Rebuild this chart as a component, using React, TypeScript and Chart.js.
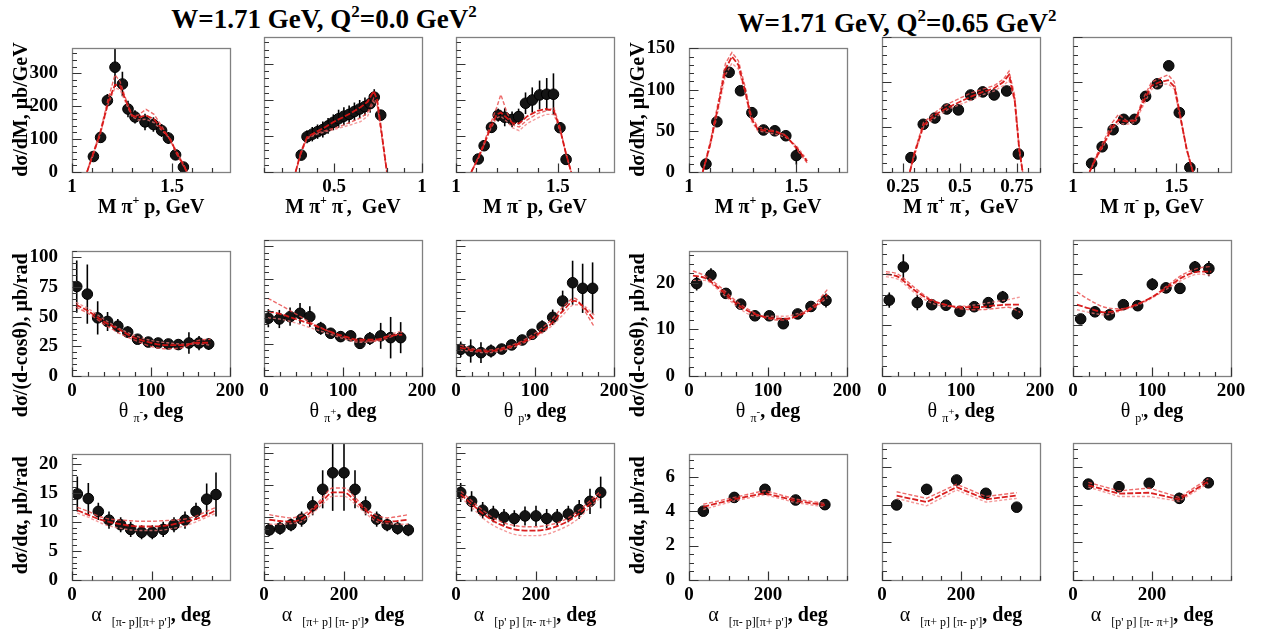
import React, { useEffect, useRef } from "react";
import { Chart, registerables } from "chart.js";

Chart.register(...registerables);

const SERIF = "'Liberation Serif', 'Times New Roman', serif";

// ================= DATA : W=1.71 GeV, Q2=0.0 GeV2 =================
// Row 1 : invariant masses
const mPipPQ0X = [1.107, 1.143, 1.177, 1.215, 1.252, 1.28, 1.315, 1.365, 1.407, 1.448, 1.482, 1.518, 1.557];
const mPipPQ0Y = [47, 105, 217, 318, 267, 191, 167, 152, 144, 126, 103, 52, 15];
const mPipPQ0Err = [8, 15, 20, 60, 37, 25, 20, 25, 22, 20, 18, 12, 10];
const mPipPQ0ModelX = [1.075, 1.1, 1.14, 1.18, 1.215, 1.24, 1.27, 1.3, 1.33, 1.37, 1.41, 1.45, 1.49, 1.52, 1.55, 1.575];
const mPipPQ0ModelA = [0, 45, 115, 210, 265, 262, 215, 172, 165, 172, 160, 130, 100, 62, 30, 0];
const mPipPQ0ModelB = [0, 48, 120, 220, 295, 275, 220, 170, 172, 190, 175, 138, 98, 58, 26, 0];
const mPipPQ0ModelC = [0, 42, 110, 205, 255, 250, 208, 168, 158, 160, 150, 125, 102, 66, 33, 0];

const mPiPiQ0X = [0.312, 0.345, 0.375, 0.405, 0.435, 0.465, 0.495, 0.525, 0.555, 0.585, 0.615, 0.645, 0.675, 0.705, 0.728, 0.765];
const mPiPiQ0Y = [47, 98, 105, 112, 118, 128, 138, 148, 155, 160, 168, 175, 182, 190, 208, 158];
const mPiPiQ0Err = [12, 18, 20, 20, 22, 22, 22, 25, 25, 25, 25, 25, 25, 25, 22, 12];
const mPiPiQ0ModelX = [0.28, 0.31, 0.345, 0.4, 0.45, 0.5, 0.55, 0.6, 0.65, 0.69, 0.725, 0.745, 0.77, 0.8];
const mPiPiQ0ModelA = [0, 55, 97, 112, 125, 140, 152, 165, 180, 195, 225, 200, 110, 0];
const mPiPiQ0ModelB = [0, 50, 95, 108, 115, 122, 130, 140, 150, 165, 205, 190, 100, 0];
const mPiPiQ0ModelC = [0, 52, 92, 105, 112, 118, 125, 132, 140, 155, 195, 185, 105, 0];

const mPimPQ0X = [1.109, 1.138, 1.174, 1.207, 1.239, 1.275, 1.307, 1.341, 1.374, 1.41, 1.445, 1.478, 1.51, 1.54];
const mPimPQ0Y = [36, 73, 124, 158, 152, 146, 154, 191, 200, 214, 216, 216, 123, 35];
const mPimPQ0Err = [8, 10, 15, 18, 25, 22, 22, 30, 35, 40, 45, 58, 15, 8];
const mPimPQ0ModelX = [1.075, 1.11, 1.14, 1.17, 1.2, 1.22, 1.25, 1.28, 1.31, 1.35, 1.4, 1.44, 1.48, 1.51, 1.54, 1.565];
const mPimPQ0ModelA = [0, 40, 80, 125, 160, 165, 150, 135, 135, 155, 170, 175, 170, 120, 50, 0];
const mPimPQ0ModelB = [0, 42, 85, 135, 180, 215, 165, 130, 125, 145, 162, 170, 178, 125, 48, 0];
const mPimPQ0ModelC = [0, 38, 78, 120, 150, 155, 140, 122, 115, 135, 150, 160, 160, 115, 52, 0];

// ================= DATA : W=1.71 GeV, Q2=0.65 GeV2 =================
const mPipPQ65X = [1.079, 1.13, 1.187, 1.24, 1.293, 1.347, 1.4, 1.451, 1.5];
const mPipPQ65Y = [9.7, 61, 121, 98.6, 72, 51, 50, 44, 20];
const mPipPQ65Err = [4, 4, 6, 4, 4, 3, 3, 4, 11];
const mPipPQ65ModelX = [1.064, 1.1, 1.14, 1.17, 1.2, 1.23, 1.26, 1.29, 1.32, 1.36, 1.4, 1.45, 1.5, 1.55];
const mPipPQ65ModelA = [0, 35, 85, 125, 140, 130, 100, 65, 52, 50, 49, 44, 30, 13];
const mPipPQ65ModelB = [0, 38, 90, 132, 145, 135, 105, 68, 55, 52, 50, 45, 28, 11];
const mPipPQ65ModelC = [0, 32, 80, 118, 132, 125, 98, 62, 50, 48, 46, 42, 32, 15];

const mPiPiQ65X = [0.285, 0.339, 0.39, 0.442, 0.493, 0.547, 0.6, 0.65, 0.705, 0.756];
const mPiPiQ65Y = [16, 53, 60, 70, 69, 85.6, 89, 85.6, 90, 20];
const mPiPiQ65Err = [6, 4, 3, 3, 3, 3, 3, 3, 3, 3];
const mPiPiQ65ModelX = [0.28, 0.3, 0.34, 0.4, 0.45, 0.5, 0.55, 0.6, 0.65, 0.69, 0.715, 0.74, 0.76, 0.775];
const mPiPiQ65ModelA = [0, 20, 52, 65, 72, 78, 84, 89, 93, 100, 108, 80, 25, 0];
const mPiPiQ65ModelB = [0, 22, 55, 68, 76, 82, 88, 92, 96, 103, 112, 85, 28, 0];
const mPiPiQ65ModelC = [0, 18, 50, 62, 70, 75, 80, 86, 90, 96, 102, 78, 22, 0];

const mPimPQ65X = [1.09, 1.141, 1.194, 1.245, 1.298, 1.351, 1.408, 1.463, 1.514, 1.565];
const mPimPQ65Y = [9.6, 28, 47, 58.5, 58.5, 84, 98, 118, 66, 5];
const mPimPQ65Err = [3, 3, 3, 3, 3, 3, 3, 5, 3, 2];
const mPimPQ65ModelX = [1.08, 1.11, 1.15, 1.19, 1.22, 1.26, 1.3, 1.34, 1.38, 1.42, 1.46, 1.49, 1.52, 1.55, 1.58];
const mPimPQ65ModelA = [0, 15, 32, 50, 58, 56, 57, 78, 96, 100, 102, 95, 60, 25, 0];
const mPimPQ65ModelB = [0, 17, 35, 55, 64, 57, 58, 82, 100, 104, 108, 100, 62, 24, 0];
const mPimPQ65ModelC = [0, 14, 30, 48, 54, 53, 55, 74, 92, 97, 98, 92, 58, 26, 0];

// Row 2 : polar angles
const thetaModelX = [5, 20, 40, 60, 80, 100, 120, 140, 160, 175];
const thetaPrModelX = [5, 20, 40, 60, 80, 100, 120, 135, 150, 162, 175];

const thPimQ0X = [6, 19.4, 32.5, 45, 58, 70.5, 83, 96.6, 109, 122, 134.6, 148, 160.8, 173];
const thPimQ0Y = [75.4, 69, 49, 46, 42, 37, 31, 28.6, 27.8, 27, 26.5, 27.8, 27.8, 27];
const thPimQ0Err = [22, 25, 14, 8, 6, 5, 4, 4, 4, 4, 4, 9, 6, 5];
const thPimQ0ModelA = [60, 55, 46, 39, 32, 28, 26, 26, 28, 28];
const thPimQ0ModelB = [58, 53, 44, 36, 30, 25, 23, 24, 30, 31];
const thPimQ0ModelC = [62, 57, 48, 40, 34, 30, 28, 27, 27, 26];

const thPipQ0X = [5.5, 19.4, 33, 45.6, 58, 71.8, 84.4, 97, 109.7, 121.5, 134, 147.7, 160.3, 173];
const thPipQ0Y = [44.6, 44, 45.8, 48.4, 45.8, 36.8, 33, 30.4, 31, 25.2, 29, 31, 29.6, 29.6];
const thPipQ0Err = [7, 7, 7, 8, 8, 5, 4, 4, 4, 4, 5, 10, 16, 12];
const thPipQ0ModelA = [50, 48, 44, 40, 35, 31, 28, 28, 31, 32];
const thPipQ0ModelB = [60, 55, 48, 41, 35, 30, 27, 27, 30, 34];
const thPipQ0ModelC = [45, 44, 41, 37, 33, 29, 26, 27, 32, 35];

const thPrQ0X = [6, 18.6, 31.6, 44.3, 57.8, 70.4, 83.8, 96.4, 109, 122.4, 135, 147.6, 160.3, 172.9];
const thPrQ0Y = [20.6, 19.3, 18, 19.3, 20.8, 24, 27.8, 32.2, 38, 45.3, 57.9, 72, 67.7, 67.7];
const thPrQ0Err = [6, 9, 8, 5, 4, 3, 3, 3, 5, 6, 8, 17, 19, 20];
const thPrQ0ModelA = [22, 20, 19, 21, 25, 31, 40, 50, 58, 53, 43];
const thPrQ0ModelB = [24, 21, 20, 22, 26, 33, 43, 53, 60, 51, 38];
const thPrQ0ModelC = [20, 19, 18, 20, 24, 30, 38, 47, 55, 54, 47];

const thPimQ65X = [9.7, 27.8, 46.8, 65.4, 83.5, 101.7, 119.4, 137.6, 154.4, 173.4];
const thPimQ65Y = [19.8, 21.6, 17.7, 15.4, 12.9, 12.9, 11.2, 13.3, 14.9, 16.2];
const thPimQ65Err = [1.5, 1.5, 0.8, 0.8, 0.8, 0.8, 0.8, 0.8, 0.8, 1.5];
const thPimQ65ModelA = [21.5, 21, 18.5, 15.5, 13.5, 12.5, 12.3, 13, 15, 17.5];
const thPimQ65ModelB = [22.5, 21.5, 19, 16, 13.8, 12.3, 12, 13.2, 15.5, 18.5];
const thPimQ65ModelC = [20.5, 20.5, 18, 15, 13, 12.8, 12.8, 13.5, 14.8, 16.8];

const thPipQ65X = [9.2, 27, 44.7, 63, 81, 98.7, 116.8, 134.6, 152.8, 171.3];
const thPipQ65Y = [14.9, 21.4, 14.4, 14, 13.9, 12.7, 13.6, 14.4, 15.5, 12.3];
const thPipQ65Err = [1.5, 2.5, 1.5, 0.8, 0.8, 0.8, 0.8, 0.8, 1.2, 1.2];
const thPipQ65ModelA = [20, 19.5, 17, 15, 14, 13.5, 13.5, 13.8, 14, 14];
const thPipQ65ModelB = [20.5, 20, 17.5, 15.2, 14, 13.2, 13, 13.2, 13.5, 12.5];
const thPipQ65ModelC = [19.5, 19, 16.5, 14.5, 13.7, 13.7, 14, 14.5, 15, 15.5];

const thPrQ65X = [9.7, 27.8, 46, 63.7, 81.9, 100.4, 117.7, 135.4, 154.4, 172];
const thPrQ65Y = [11.2, 12.6, 12, 14, 13.8, 18, 17.3, 17.2, 21.4, 21.1];
const thPrQ65Err = [0.8, 0.8, 0.8, 0.8, 0.8, 1.2, 0.8, 0.8, 1.2, 1.5];
const thPrQ65ModelA = [14, 13.3, 12.5, 13, 14, 15.5, 17.5, 19.5, 20.5, 20.5];
const thPrQ65ModelB = [16.5, 15, 13.5, 13.2, 14, 15.5, 17.8, 20, 21.2, 21.5];
const thPrQ65ModelC = [13, 12.5, 12, 12.8, 13.8, 15.3, 17.2, 19, 20, 19.8];

// Row 3 : alpha angles
const al1Q0X = [13.3, 40.8, 65.8, 92.5, 121.7, 146.7, 174, 200.8, 228, 255, 282.5, 310, 336.7, 360];
const al1Q0Y = [14.8, 14, 11.8, 10.3, 9.5, 8.7, 8.2, 8.2, 8.7, 9.5, 10.3, 11.8, 13.9, 14.7];
const al1Q0Err = [3, 2.7, 1.5, 1.5, 1.3, 1.3, 1.2, 1.2, 1.3, 1.3, 1.5, 1.5, 2.7, 3.8];
const al1Q0ModelA = [12, 11.2, 10.5, 10, 9.6, 9.3, 9.2, 9.2, 9.3, 9.6, 10, 10.5, 11.2, 12];
const al1Q0ModelB = [12.5, 11.8, 11, 10.5, 10.3, 10.2, 10.1, 10.1, 10.2, 10.3, 10.5, 11, 11.8, 12.5];
const al1Q0ModelC = [11.5, 10.8, 10, 9.3, 8.9, 8.6, 8.5, 8.5, 8.6, 8.9, 9.3, 10, 10.8, 11.5];

const al2Q0X = [13.3, 40, 67.5, 94, 121.7, 146.7, 171.7, 200, 227.5, 254, 281.7, 308, 334, 360.8];
const al2Q0Y = [7.9, 8.15, 8.7, 9.6, 11.7, 14.3, 16.9, 16.9, 14.3, 11.7, 9.6, 8.7, 8.15, 7.9];
const al2Q0Err = [1, 1, 1, 1.2, 1.5, 3, 6, 6, 3, 1.5, 1.2, 1, 1, 1];
const al2Q0ModelA = [9.5, 9.3, 9.2, 9.6, 11, 12.5, 13.8, 13.8, 12.5, 11, 9.6, 9.2, 9.3, 9.5];
const al2Q0ModelB = [10.3, 10, 9.8, 10.2, 11.3, 13, 14.5, 14.5, 13, 11.3, 10.2, 9.8, 10, 10.3];
const al2Q0ModelC = [8.8, 8.8, 8.9, 9.2, 10.5, 12, 13.2, 13.2, 12, 10.5, 9.2, 8.9, 8.8, 8.8];

const al3Q0X = [11.7, 39, 66.7, 93.3, 120, 145.8, 172.5, 200, 226.7, 253, 280.8, 308, 335, 361.7];
const al3Q0Y = [13.8, 12.4, 11, 10.4, 9.9, 9.7, 10.1, 10.1, 9.7, 9.9, 10.4, 11.1, 12.4, 13.8];
const al3Q0Err = [1.5, 1.6, 1.3, 1.3, 1.3, 1.3, 1.5, 1.6, 1.5, 1.3, 1.3, 1.5, 2, 2.5];
const al3Q0ModelA = [13.5, 12, 10.5, 9.3, 8.5, 8, 7.8, 7.8, 8, 8.5, 9.3, 10.5, 12, 13.5];
const al3Q0ModelB = [14, 12.5, 11, 9.8, 9, 8.6, 8.4, 8.4, 8.6, 9, 9.8, 11, 12.5, 14];
const al3Q0ModelC = [13, 11.5, 9.8, 8.6, 7.8, 7.2, 7, 7, 7.2, 7.8, 8.6, 9.8, 11.5, 13];

const al1Q65X = [36.2, 114.7, 192.4, 270, 344];
const al1Q65Y = [4.0, 4.8, 5.27, 4.65, 4.38];
const al1Q65Err = [0.2, 0.15, 0.15, 0.15, 0.15];
const al1Q65ModelA = [4.25, 4.7, 5.05, 4.6, 4.35];
const al1Q65ModelB = [4.4, 4.8, 5.2, 4.7, 4.45];
const al1Q65ModelC = [4.1, 4.6, 4.95, 4.5, 4.25];

const al2Q65X = [37, 113, 189, 263, 341];
const al2Q65Y = [4.0, 4.83, 5.33, 4.62, 3.88];
const al2Q65Err = [0.15, 0.25, 0.15, 0.15, 0.15];
const al2Q65ModelA = [4.5, 4.15, 4.95, 4.3, 4.5];
const al2Q65ModelB = [4.7, 4.35, 5.1, 4.45, 4.65];
const al2Q65ModelC = [4.35, 3.95, 4.8, 4.15, 4.35];

const al3Q65X = [38.8, 116.5, 193, 269, 342.5];
const al3Q65Y = [5.11, 4.97, 5.15, 4.35, 5.18];
const al3Q65Err = [0.2, 0.3, 0.15, 0.3, 0.2];
const al3Q65ModelA = [5.05, 4.6, 4.65, 4.3, 5.25];
const al3Q65ModelB = [5.2, 4.75, 4.9, 4.4, 5.4];
const al3Q65ModelC = [4.95, 4.45, 4.45, 4.2, 5.15];

// ================= TICK LABELS =================
const massQ0YTicks = [0, 100, 200, 300];
const massQ65YTicks = [0, 50, 100, 150];
const mPiPXTicks = [1, 1.5];
const mPiPiQ0XTicks = [0.5, 1];
const mPiPiQ65XTicks = [0.25, 0.5, 0.75];
const thetaXTicks = [0, 100, 200];
const thetaQ0YTicks = [0, 25, 50, 75, 100];
const thetaQ65YTicks = [0, 10, 20];
const alphaXTicks = [0, 200];
const alphaQ0YTicks = [0, 5, 10, 15, 20];
const alphaQ65YTicks = [0, 2, 4, 6];

// ================= LAYOUT =================
const COL_LEFT = [72, 264, 456, 689, 882, 1073];
const ROW_TOP = [37, 240, 443];
const ROW_H = [135, 136, 137];
const FRAME_W = 158;
const PAD_L = 70;
const PAD_T = 14;
const PAD_R = 26;
const PAD_B = 50;
const Y_TITLE_OFF = [-6, 2, 2];

type Seg = { t: string; s: number; b: boolean; dy?: number };
const B = (t: string): Seg => ({ t, s: 20, b: true });
const SUP = (t: string): Seg => ({ t, s: 12, b: true, dy: -9 });
const N = (t: string): Seg => ({ t, s: 20, b: false });
const SUB = (t: string): Seg => ({ t, s: 12, b: false, dy: 5 });
const SUBSUP = (t: string): Seg => ({ t, s: 11, b: false, dy: -2 });

const tMPipP = [B("M "), B("π"), SUP("+"), B(" p, GeV")];
const tMPiPi = [B("M "), B("π"), SUP("+"), B(" π"), SUP("-"), B(",  GeV")];
const tMPimP = [B("M "), B("π"), SUP("-"), B(" p, GeV")];
const tThPim = [N("θ "), SUB("π"), SUBSUP("-"), B(", deg")];
const tThPip = [N("θ "), SUB("π"), SUBSUP("+"), B(", deg")];
const tThPr = [N("θ "), SUB("p'"), B(", deg")];
const tAl1 = [N("α  "), SUB("[π- p][π+ p']"), B(", deg")];
const tAl2 = [N("α  "), SUB("[π+ p] [π- p']"), B(", deg")];
const tAl3 = [N("α  "), SUB("[p' p] [π- π+]"), B(", deg")];

const yTitleMass = "dσ/dM, μb/GeV";
const yTitleTheta = "dσ/(d-cosθ), μb/rad";
const yTitleAlpha = "dσ/dα, μb/rad";

interface PanelSpec {
  row: number; col: number;
  xMin: number; xMax: number; yMin: number; yMax: number;
  xTicks: number[]; yTicks: number[]; xMinor: number; yMinor: number;
  showY: boolean; yTitle: string; xTitle: Seg[];
  px: number[]; py: number[]; pe: number[];
  mx: number[]; ma: number[]; mb: number[]; mc: number[];
  smooth: boolean;
}

const panels: PanelSpec[] = [
  // Row 1
  { row: 0, col: 0, xMin: 1, xMax: 1.79, yMin: 0, yMax: 375, xTicks: mPiPXTicks, yTicks: massQ0YTicks, xMinor: 0.1, yMinor: 20, showY: true, yTitle: yTitleMass, xTitle: tMPipP, px: mPipPQ0X, py: mPipPQ0Y, pe: mPipPQ0Err, mx: mPipPQ0ModelX, ma: mPipPQ0ModelA, mb: mPipPQ0ModelB, mc: mPipPQ0ModelC, smooth: false },
  { row: 0, col: 1, xMin: 0.1, xMax: 1.0, yMin: 0, yMax: 375, xTicks: mPiPiQ0XTicks, yTicks: massQ0YTicks, xMinor: 0.1, yMinor: 20, showY: false, yTitle: yTitleMass, xTitle: tMPiPi, px: mPiPiQ0X, py: mPiPiQ0Y, pe: mPiPiQ0Err, mx: mPiPiQ0ModelX, ma: mPiPiQ0ModelA, mb: mPiPiQ0ModelB, mc: mPiPiQ0ModelC, smooth: false },
  { row: 0, col: 2, xMin: 1, xMax: 1.775, yMin: 0, yMax: 375, xTicks: mPiPXTicks, yTicks: massQ0YTicks, xMinor: 0.1, yMinor: 20, showY: false, yTitle: yTitleMass, xTitle: tMPimP, px: mPimPQ0X, py: mPimPQ0Y, pe: mPimPQ0Err, mx: mPimPQ0ModelX, ma: mPimPQ0ModelA, mb: mPimPQ0ModelB, mc: mPimPQ0ModelC, smooth: false },
  { row: 0, col: 3, xMin: 1, xMax: 1.736, yMin: 0, yMax: 150, xTicks: mPiPXTicks, yTicks: massQ65YTicks, xMinor: 0.1, yMinor: 10, showY: true, yTitle: yTitleMass, xTitle: tMPipP, px: mPipPQ65X, py: mPipPQ65Y, pe: mPipPQ65Err, mx: mPipPQ65ModelX, ma: mPipPQ65ModelA, mb: mPipPQ65ModelB, mc: mPipPQ65ModelC, smooth: false },
  { row: 0, col: 4, xMin: 0.158, xMax: 0.851, yMin: 0, yMax: 150, xTicks: mPiPiQ65XTicks, yTicks: massQ65YTicks, xMinor: 0.05, yMinor: 10, showY: false, yTitle: yTitleMass, xTitle: tMPiPi, px: mPiPiQ65X, py: mPiPiQ65Y, pe: mPiPiQ65Err, mx: mPiPiQ65ModelX, ma: mPiPiQ65ModelA, mb: mPiPiQ65ModelB, mc: mPiPiQ65ModelC, smooth: false },
  { row: 0, col: 5, xMin: 1, xMax: 1.764, yMin: 0, yMax: 150, xTicks: mPiPXTicks, yTicks: massQ65YTicks, xMinor: 0.1, yMinor: 10, showY: false, yTitle: yTitleMass, xTitle: tMPimP, px: mPimPQ65X, py: mPimPQ65Y, pe: mPimPQ65Err, mx: mPimPQ65ModelX, ma: mPimPQ65ModelA, mb: mPimPQ65ModelB, mc: mPimPQ65ModelC, smooth: false },
  // Row 2
  { row: 1, col: 0, xMin: 0, xMax: 200, yMin: 0, yMax: 105, xTicks: thetaXTicks, yTicks: thetaQ0YTicks, xMinor: 20, yMinor: 5, showY: true, yTitle: yTitleTheta, xTitle: tThPim, px: thPimQ0X, py: thPimQ0Y, pe: thPimQ0Err, mx: thetaModelX, ma: thPimQ0ModelA, mb: thPimQ0ModelB, mc: thPimQ0ModelC, smooth: true },
  { row: 1, col: 1, xMin: 0, xMax: 200, yMin: 0, yMax: 105, xTicks: thetaXTicks, yTicks: thetaQ0YTicks, xMinor: 20, yMinor: 5, showY: false, yTitle: yTitleTheta, xTitle: tThPip, px: thPipQ0X, py: thPipQ0Y, pe: thPipQ0Err, mx: thetaModelX, ma: thPipQ0ModelA, mb: thPipQ0ModelB, mc: thPipQ0ModelC, smooth: true },
  { row: 1, col: 2, xMin: 0, xMax: 200, yMin: 0, yMax: 105, xTicks: thetaXTicks, yTicks: thetaQ0YTicks, xMinor: 20, yMinor: 5, showY: false, yTitle: yTitleTheta, xTitle: tThPr, px: thPrQ0X, py: thPrQ0Y, pe: thPrQ0Err, mx: thetaPrModelX, ma: thPrQ0ModelA, mb: thPrQ0ModelB, mc: thPrQ0ModelC, smooth: true },
  { row: 1, col: 3, xMin: 0, xMax: 200, yMin: 0, yMax: 26.7, xTicks: thetaXTicks, yTicks: thetaQ65YTicks, xMinor: 20, yMinor: 2, showY: true, yTitle: yTitleTheta, xTitle: tThPim, px: thPimQ65X, py: thPimQ65Y, pe: thPimQ65Err, mx: thetaModelX, ma: thPimQ65ModelA, mb: thPimQ65ModelB, mc: thPimQ65ModelC, smooth: true },
  { row: 1, col: 4, xMin: 0, xMax: 200, yMin: 0, yMax: 26.7, xTicks: thetaXTicks, yTicks: thetaQ65YTicks, xMinor: 20, yMinor: 2, showY: false, yTitle: yTitleTheta, xTitle: tThPip, px: thPipQ65X, py: thPipQ65Y, pe: thPipQ65Err, mx: thetaModelX, ma: thPipQ65ModelA, mb: thPipQ65ModelB, mc: thPipQ65ModelC, smooth: true },
  { row: 1, col: 5, xMin: 0, xMax: 200, yMin: 0, yMax: 26.7, xTicks: thetaXTicks, yTicks: thetaQ65YTicks, xMinor: 20, yMinor: 2, showY: false, yTitle: yTitleTheta, xTitle: tThPr, px: thPrQ65X, py: thPrQ65Y, pe: thPrQ65Err, mx: thetaModelX, ma: thPrQ65ModelA, mb: thPrQ65ModelB, mc: thPrQ65ModelC, smooth: true },
  // Row 3
  { row: 2, col: 0, xMin: 0, xMax: 395, yMin: 0, yMax: 21.6, xTicks: alphaXTicks, yTicks: alphaQ0YTicks, xMinor: 50, yMinor: 1, showY: true, yTitle: yTitleAlpha, xTitle: tAl1, px: al1Q0X, py: al1Q0Y, pe: al1Q0Err, mx: al1Q0X, ma: al1Q0ModelA, mb: al1Q0ModelB, mc: al1Q0ModelC, smooth: true },
  { row: 2, col: 1, xMin: 0, xMax: 395, yMin: 0, yMax: 21.6, xTicks: alphaXTicks, yTicks: alphaQ0YTicks, xMinor: 50, yMinor: 1, showY: false, yTitle: yTitleAlpha, xTitle: tAl2, px: al2Q0X, py: al2Q0Y, pe: al2Q0Err, mx: al2Q0X, ma: al2Q0ModelA, mb: al2Q0ModelB, mc: al2Q0ModelC, smooth: true },
  { row: 2, col: 2, xMin: 0, xMax: 395, yMin: 0, yMax: 21.6, xTicks: alphaXTicks, yTicks: alphaQ0YTicks, xMinor: 50, yMinor: 1, showY: false, yTitle: yTitleAlpha, xTitle: tAl3, px: al3Q0X, py: al3Q0Y, pe: al3Q0Err, mx: al3Q0X, ma: al3Q0ModelA, mb: al3Q0ModelB, mc: al3Q0ModelC, smooth: true },
  { row: 2, col: 3, xMin: 0, xMax: 400, yMin: 0, yMax: 7.3, xTicks: alphaXTicks, yTicks: alphaQ65YTicks, xMinor: 50, yMinor: 0.5, showY: true, yTitle: yTitleAlpha, xTitle: tAl1, px: al1Q65X, py: al1Q65Y, pe: al1Q65Err, mx: al1Q65X, ma: al1Q65ModelA, mb: al1Q65ModelB, mc: al1Q65ModelC, smooth: false },
  { row: 2, col: 4, xMin: 0, xMax: 400, yMin: 0, yMax: 7.3, xTicks: alphaXTicks, yTicks: alphaQ65YTicks, xMinor: 50, yMinor: 0.5, showY: false, yTitle: yTitleAlpha, xTitle: tAl2, px: al2Q65X, py: al2Q65Y, pe: al2Q65Err, mx: al2Q65X, ma: al2Q65ModelA, mb: al2Q65ModelB, mc: al2Q65ModelC, smooth: false },
  { row: 2, col: 5, xMin: 0, xMax: 400, yMin: 0, yMax: 7.3, xTicks: alphaXTicks, yTicks: alphaQ65YTicks, xMinor: 50, yMinor: 0.5, showY: false, yTitle: yTitleAlpha, xTitle: tAl3, px: al3Q65X, py: al3Q65Y, pe: al3Q65Err, mx: al3Q65X, ma: al3Q65ModelA, mb: al3Q65ModelB, mc: al3Q65ModelC, smooth: false },
];

function stepValues(min: number, max: number, step: number): number[] {
  const out: number[] = [];
  const start = Math.ceil(min / step - 1e-9);
  for (let k = start; k * step <= max + 1e-9; k++) out.push(+(k * step).toFixed(6));
  return out;
}

function segFont(s: Seg) {
  return `${s.b ? "bold " : ""}${s.s}px ${SERIF}`;
}

function makeDecor(s: PanelSpec) {
  return {
    id: "rootDecor",
    beforeDatasetsDraw(chart: any) {
      const { ctx, chartArea: a, scales } = chart;
      const xs = scales.x, ys = scales.y;
      ctx.save();
      ctx.beginPath();
      ctx.rect(a.left, a.top, a.right - a.left, a.bottom - a.top);
      ctx.clip();
      ctx.strokeStyle = "#000";
      ctx.lineWidth = 1.6;
      s.px.forEach((xv, i) => {
        const X = xs.getPixelForValue(xv);
        ctx.beginPath();
        ctx.moveTo(X, ys.getPixelForValue(s.py[i] - s.pe[i]));
        ctx.lineTo(X, ys.getPixelForValue(s.py[i] + s.pe[i]));
        ctx.stroke();
      });
      ctx.restore();
    },
    afterDraw(chart: any) {
      const { ctx, chartArea: a, scales } = chart;
      const xs = scales.x, ys = scales.y;
      ctx.save();
      // frame
      ctx.strokeStyle = "#808080";
      ctx.lineWidth = 1.3;
      ctx.strokeRect(Math.round(a.left) + 0.5, Math.round(a.top) + 0.5, Math.round(a.right - a.left), Math.round(a.bottom - a.top));
      // ticks (inside)
      ctx.strokeStyle = "#333";
      ctx.lineWidth = 1.2;
      const xMaj = s.xTicks.filter((v) => v >= s.xMin - 1e-9 && v <= s.xMax + 1e-9);
      const yMaj = s.yTicks.filter((v) => v >= s.yMin - 1e-9 && v <= s.yMax + 1e-9);
      const xMin = stepValues(s.xMin, s.xMax, s.xMinor);
      const yMin = stepValues(s.yMin, s.yMax, s.yMinor);
      const bottom = Math.round(a.bottom) + 0.5;
      const left = Math.round(a.left) + 0.5;
      ctx.beginPath();
      xMin.forEach((v) => {
        const X = Math.round(xs.getPixelForValue(v)) + 0.5;
        const major = xMaj.some((m) => Math.abs(m - v) < 1e-6);
        ctx.moveTo(X, bottom);
        ctx.lineTo(X, bottom - (major ? 9 : 4.5));
      });
      xMaj.forEach((v) => {
        const X = Math.round(xs.getPixelForValue(v)) + 0.5;
        ctx.moveTo(X, bottom);
        ctx.lineTo(X, bottom - 9);
      });
      yMin.forEach((v) => {
        const Y = Math.round(ys.getPixelForValue(v)) + 0.5;
        const major = yMaj.some((m) => Math.abs(m - v) < 1e-6);
        ctx.moveTo(left, Y);
        ctx.lineTo(left + (major ? 9 : 4.5), Y);
      });
      ctx.stroke();
      ctx.fillStyle = "#000";
      // y title
      if (s.showY) {
        ctx.save();
        ctx.translate(a.left - 45, a.top + Y_TITLE_OFF[s.row]);
        ctx.rotate(-Math.PI / 2);
        ctx.textAlign = "right";
        ctx.textBaseline = "alphabetic";
        ctx.font = `bold 20px ${SERIF}`;
        ctx.fillText(s.yTitle, 0, 0);
        ctx.restore();
      }
      // x title (rich text)
      ctx.textAlign = "left";
      ctx.textBaseline = "alphabetic";
      const widths = s.xTitle.map((seg) => {
        ctx.font = segFont(seg);
        return ctx.measureText(seg.t).width;
      });
      const total = widths.reduce((p, c) => p + c, 0);
      let x = (a.left + a.right) / 2 - total / 2;
      const base = a.bottom + 41;
      s.xTitle.forEach((seg, i) => {
        ctx.font = segFont(seg);
        ctx.fillText(seg.t, x, base + (seg.dy || 0));
        x += widths[i];
      });
      ctx.restore();
    },
  };
}

function buildConfig(s: PanelSpec): any {
  const line = (ys: number[], color: string, width: number, dash: number[]) => ({
    type: "line",
    data: s.mx.map((x, i) => ({ x, y: ys[i] })),
    borderColor: color,
    borderWidth: width,
    borderDash: dash,
    pointRadius: 0,
    pointHoverRadius: 0,
    tension: 0,
    cubicInterpolationMode: s.smooth ? "monotone" : "default",
    fill: false,
    order: 0,
  });
  const tickFont = { family: SERIF, size: 19, weight: "bold" as const };
  return {
    type: "line",
    data: {
      datasets: [
        line(s.ma, "rgba(215,20,20,0.95)", 1.8, [6, 2]),
        line(s.mb, "rgba(232,70,70,0.8)", 1.4, [4, 2]),
        line(s.mc, "rgba(240,120,120,0.75)", 1.4, [3, 2]),
        {
          type: "line",
          data: s.px.map((x, i) => ({ x, y: s.py[i] })),
          showLine: false,
          pointRadius: 5.3,
          pointHoverRadius: 5.3,
          pointBackgroundColor: "#141414",
          pointBorderColor: "#000",
          pointBorderWidth: 1,
          order: 1,
        },
      ],
    },
    options: {
      responsive: false,
      maintainAspectRatio: false,
      animation: false,
      events: [],
      layout: { padding: { left: 0, right: PAD_R, top: PAD_T, bottom: 0 } },
      plugins: { legend: { display: false }, tooltip: { enabled: false }, title: { display: false } },
      scales: {
        x: {
          type: "linear",
          min: s.xMin,
          max: s.xMax,
          bounds: "data",
          afterBuildTicks: (sc: any) => {
            sc.ticks = s.xTicks.map((v) => ({ value: v }));
          },
          afterFit: (sc: any) => {
            sc.height = PAD_B;
          },
          grid: { display: false, drawTicks: false },
          border: { display: false },
          ticks: {
            autoSkip: false,
            maxRotation: 0,
            minRotation: 0,
            padding: 4,
            color: "#000",
            font: tickFont,
            callback: (v: any) => String(v),
          },
        },
        y: {
          type: "linear",
          min: s.yMin,
          max: s.yMax,
          bounds: "data",
          afterBuildTicks: (sc: any) => {
            sc.ticks = s.yTicks.map((v) => ({ value: v }));
          },
          afterFit: (sc: any) => {
            sc.width = PAD_L;
          },
          grid: { display: false, drawTicks: false },
          border: { display: false },
          ticks: {
            display: s.showY,
            padding: 14,
            color: "#000",
            font: tickFont,
            callback: (v: any) => String(v),
          },
        },
      },
    },
    plugins: [makeDecor(s)],
  };
}

function Panel({ spec }: { spec: PanelSpec }) {
  const ref = useRef<HTMLCanvasElement>(null);
  useEffect(() => {
    const chart = new Chart(ref.current as HTMLCanvasElement, buildConfig(spec));
    return () => chart.destroy();
  }, [spec]);
  const W = FRAME_W + PAD_L + PAD_R;
  const H = ROW_H[spec.row] + PAD_T + PAD_B;
  return (
    <canvas
      ref={ref}
      width={W}
      height={H}
      style={{ position: "absolute", left: COL_LEFT[spec.col] - PAD_L, top: ROW_TOP[spec.row] - PAD_T, width: W, height: H }}
    />
  );
}

const supStyle: React.CSSProperties = { fontSize: 17, position: "relative", top: -11 };

function Title({ center, top, q2 }: { center: number; top: number; q2: string }) {
  return (
    <div
      style={{
        position: "absolute",
        left: center - 250,
        top,
        width: 500,
        textAlign: "center",
        font: `bold 27px ${SERIF}`,
        lineHeight: "27px",
        whiteSpace: "nowrap",
        color: "#000",
      }}
    >
      W=1.71 GeV, Q<span style={supStyle}>2</span>={q2} GeV<span style={supStyle}>2</span>
    </div>
  );
}

export default function App() {
  return (
    <div style={{ position: "absolute", left: 0, top: 0, width: 1268, height: 635, background: "#fff", overflow: "hidden" }}>
      <Title center={324} top={6} q2="0.0" />
      <Title center={897} top={10} q2="0.65" />
      {panels.map((p, i) => (
        <Panel key={i} spec={p} />
      ))}
    </div>
  );
}
